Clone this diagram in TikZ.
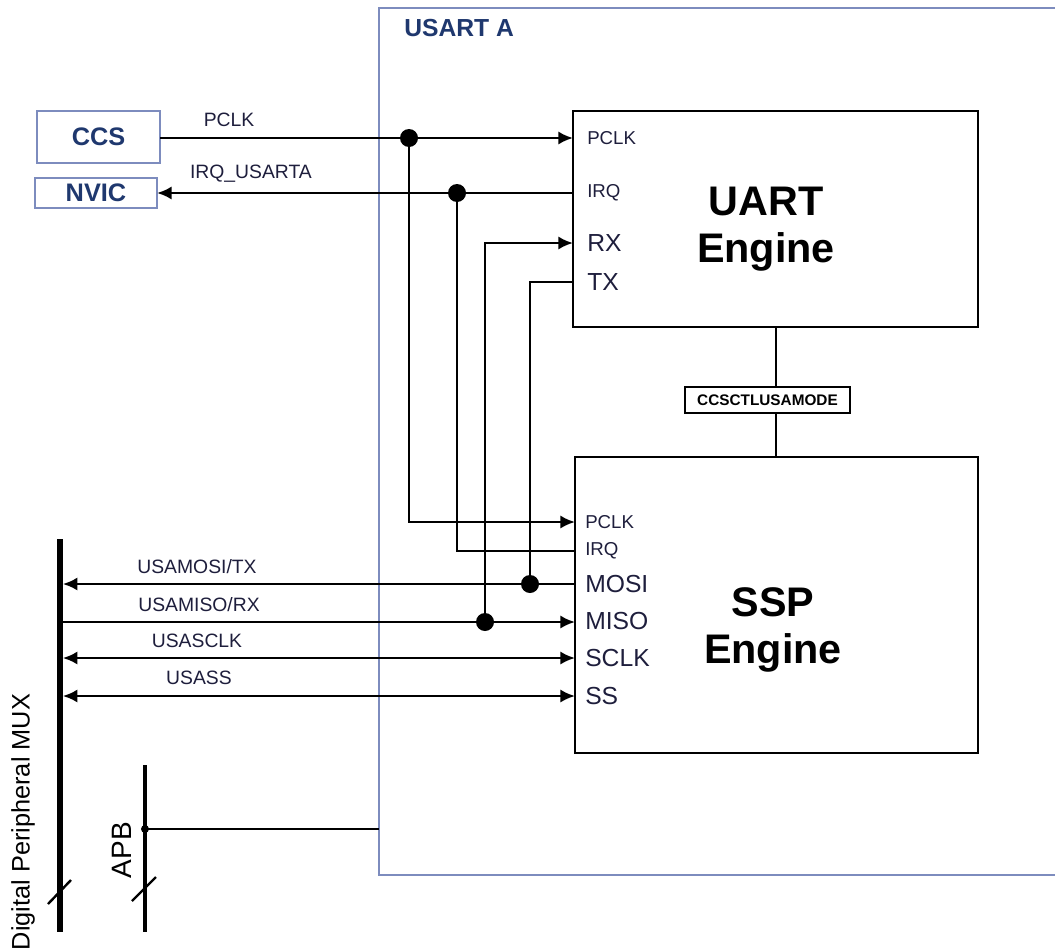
\documentclass[tikz,border=0pt]{standalone}
\usepackage{fontspec}
\setmainfont{Liberation Sans}
\usetikzlibrary{arrows.meta,positioning}
\definecolor{boxblue}{RGB}{125,140,190}
\definecolor{txtblue}{RGB}{31,56,110}
\definecolor{sigtxt}{RGB}{30,30,60}
\newcommand{\setfs}[2]{\fontsize{#1}{#2}\selectfont}

\begin{document}
\begin{tikzpicture} [
    x=0.75pt, y=-0.75pt,
    wire/.style={draw, line width=2pt},
    arr/.style={wire, -{Latex[length=11pt,width=10pt]}},
    darr/.style={wire, {Latex[length=11pt,width=10pt]}-{Latex[length=11pt,width=10pt]}},
    engine/.style={draw, line width=1.6pt, inner sep=0pt, outer sep=0pt},
    ext/.style={draw=boxblue, line width=1.6pt, inner sep=0pt, outer sep=0pt,
      text=txtblue, font=\bfseries\setfs{19}{23}},
    port/.style={anchor=west, inner sep=0pt, text=sigtxt},
    sport/.style={port, font=\setfs{14}{17}},
    bport/.style={port, font=\setfs{18.5}{22}},
    sig/.style={inner sep=0pt, text=sigtxt, font=\setfs{14.5}{17}},
    jdot/.style={circle, fill, inner sep=0pt, minimum size=13.5pt},
    bus/.style={fill, inner sep=0pt, minimum width=3.8pt},
    slash/.style={draw, line width=1.8pt}
  ]
  \useasboundingbox (0,0) rectangle (1055,949);

  % usart frame
  \node[draw=boxblue, line width=1pt, inner sep=0pt, outer sep=0pt,
    minimum width=522pt, minimum height=650.25pt] (usart) at (727,441.5) {};
  \node[anchor=west, inner sep=0pt, text=txtblue, font=\bfseries\setfs{18.5}{22}] (usartT) at (404,28) {USART A};

  % outside blocks
  \node[ext, minimum width=92.25pt, minimum height=39pt] (ccs) at (98.5,137) {CCS};
  \node[ext, minimum width=91.5pt, minimum height=22.5pt] (nvic) at (96,193) {NVIC};

  % engines
  \node[engine, minimum width=303.75pt, minimum height=162pt] (uart) at (775.5,219) {};
  \node[font=\bfseries\setfs{31}{35}, align=center] (uartT) at (766,229) {UART\\Engine};
  \node[engine, minimum width=302.25pt, minimum height=222pt] (ssp) at (776.5,605) {};
  \node[font=\bfseries\setfs{31}{35}, align=center] (sspT) at (773,630) {SSP\\Engine};
  \node[engine, line width=1.2pt, minimum width=123.75pt, minimum height=19.5pt,
    font=\bfseries\setfs{11.5}{14}] (mode) at (767.5,400) {CCSCTLUSAMODE};

  % ports
  \node[sport] (uPclk) at (587,138) {PCLK};
  \node[sport] (uIrq) at (587,193) {IRQ};
  \node[bport] (uRx) at (587,243) {RX};
  \node[bport] (uTx) at (587,282) {TX};
  \node[sport] (sPclk) at (585,522) {PCLK};
  \node[sport] (sIrq) at (585,551) {IRQ};
  \node[bport] (sMosi) at (585,584) {MOSI};
  \node[bport] (sMiso) at (585,621) {MISO};
  \node[bport] (sSclk) at (585,658) {SCLK};
  \node[bport] (sSs) at (585,696) {SS};

  % buses
  \node[bus, minimum height=294.75pt] (mux) at (60,735.5) {};
  \node[bus, minimum width=3pt, minimum height=125.25pt] (apb) at (145,848.5) {};
  \node[rotate=90, inner sep=0pt, font=\setfs{19}{23}] (muxT) at (23,822) {Digital Peripheral MUX};
  \node[rotate=90, inner sep=0pt, font=\setfs{21}{25}] (apbT) at (122,850) {APB};
  \draw[slash] (48,904) -- (71,880);
  \draw[slash] (132,901) -- (156,877);

  % junctions
  \node[jdot] (jPclk) at (409,138) {};
  \node[jdot] (jIrq) at (457,193) {};
  \node[jdot] (jMosi) at (530,584) {};
  \node[jdot] (jMiso) at (485,622) {};
  \node[circle, fill, inner sep=0pt, minimum size=6pt] (jApb) at (145,829) {};

  % connections
  \draw[arr] (ccs.east |- jPclk) -- (uart.west |- jPclk);
  \draw[arr] (uart.west |- jIrq) -- (nvic.east |- jIrq);
  \draw[arr] (jPclk.center) |- (ssp.west |- sPclk);
  \draw[wire] (jIrq.center) |- (ssp.west |- sIrq);
  \draw[arr] (jMiso.center) |- (uart.west |- uRx);
  \draw[wire] (jMosi.center) |- (uart.west |- uTx);
  \draw[arr] (ssp.west |- jMosi) -- (mux.east |- jMosi);
  \draw[arr] (mux.east |- jMiso) -- (ssp.west |- jMiso);
  \draw[darr] (mux.east |- sSclk) -- (ssp.west |- sSclk);
  \draw[darr] (mux.east |- sSs) -- (ssp.west |- sSs);
  \draw[wire, line width=1.5pt] (uart.south) -- (uart.south |- mode.north);
  \draw[wire, line width=1.5pt] (uart.south |- mode.south) -- (uart.south |- ssp.north);
  \draw[wire, line width=1.5pt] (jApb.center) -- (usart.west |- jApb);

  % signal names
  \node[sig] (lPclk) at (229,120) {PCLK};
  \node[sig] (lIrq) at (251,174) {IRQ\_USARTA};
  \node[sig] (lMosi) at (197,567) {USAMOSI/TX};
  \node[sig] (lMiso) at (199,605) {USAMISO/RX};
  \node[sig] (lSclk) at (197,641) {USASCLK};
  \node[sig] (lSs) at (199,678) {USASS};
\end{tikzpicture}
\end{document}
